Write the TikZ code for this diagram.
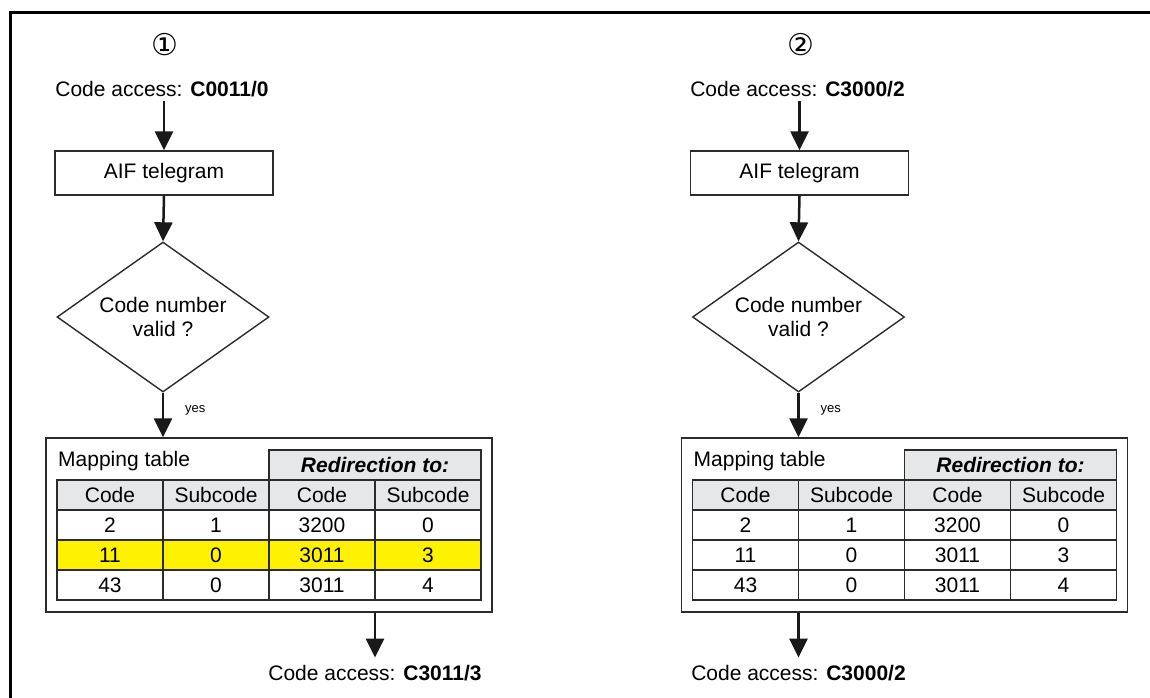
\documentclass[tikz,border=0pt]{standalone}
\usepackage{fontspec}
\setmainfont{Liberation Sans}
\newfontfamily\symfont{DejaVu Sans}
\usetikzlibrary{shapes.geometric,arrows.meta}
\definecolor{headgray}{HTML}{E6E7E8}
\definecolor{hlyellow}{HTML}{FFF200}
\definecolor{linegray}{HTML}{2B2B2B}
\newcommand\fsmain{\fontsize{21}{24}\selectfont}
\newcommand\fssmall{\fontsize{13}{15}\selectfont}
\tikzset{
  frameline/.style={draw=black, line width=2.6pt},
  boxstyle/.style={draw=linegray, line width=1.4pt, inner sep=0pt, font=\fsmain},
  cell/.style={draw=linegray, line width=1.5pt, minimum width=106pt, minimum height=30pt, inner sep=0pt, outer sep=0pt, font=\fsmain},
  hcell/.style={cell, fill=headgray},
  ycell/.style={cell, fill=hlyellow},
  plaintext/.style={inner sep=0pt, font=\fsmain},
  arr/.style={line width=2.5pt, draw=black!90, -{Triangle[width=18pt,length=19pt]}},
  decision/.style={diamond, aspect=1.41, draw=linegray, line width=1.4pt, minimum width=212pt, minimum height=150pt, inner sep=0pt, align=center, font=\fsmain},
}
\newcommand\mydiag[7]{%
\begin{scope}[xshift=#2pt]
  \node[plaintext] (#1num) at (165,45) {\fontsize{30}{32}\symfont #3};
  \node[plaintext, anchor=base] (#1in) at (162,96) {Code access: \textbf{#4}};
  \node[boxstyle, minimum width=218pt, minimum height=44pt] (#1aif) at (164,173) {AIF telegram};
  \node[decision] (#1valid) at (163,317) {Code number\\valid ?};
  \node[boxstyle, minimum width=446pt, minimum height=174pt] (#1map) at (269,525) {};
  \node[plaintext, anchor=base west] (#1maptitle) at (58,466) {Mapping table};
  \node[hcell, minimum width=212pt, font=\fsmain\bfseries\itshape] (#1redir) at (375,465) {Redirection to:};
  \node[hcell] (#1ha) at (110,495) {Code};
  \node[hcell] (#1hb) at (216,495) {Subcode};
  \node[hcell] (#1hc) at (322,495) {Code};
  \node[hcell] (#1hd) at (428,495) {Subcode};
  \node[cell] (#1aa) at (110,525) {2};
  \node[cell] (#1ab) at (216,525) {1};
  \node[cell] (#1ac) at (322,525) {3200};
  \node[cell] (#1ad) at (428,525) {0};
  \node[#7] (#1ba) at (110,555) {11};
  \node[#7] (#1bb) at (216,555) {0};
  \node[#7] (#1bc) at (322,555) {3011};
  \node[#7] (#1bd) at (428,555) {3};
  \node[cell] (#1ca) at (110,585) {43};
  \node[cell] (#1cb) at (216,585) {0};
  \node[cell] (#1cc) at (322,585) {3011};
  \node[cell] (#1cd) at (428,585) {4};
  \node[plaintext, anchor=base] (#1out) at (#6,680) {Code access: \textbf{#5}};
  \node[anchor=base west, font=\fssmall, inner sep=0pt] (#1yes) at (185,412) {yes};
  \draw[arr, shorten <=4.5pt] (#1aif.north |- #1in.south) -- (#1aif.north);
  \draw[arr] (#1aif.south) -- (#1valid.north);
  \draw[arr] (#1valid.south) -- (#1valid.south |- #1map.north);
  \draw[arr, shorten >=7pt] (#1map.south -| #1out.north) -- (#1out.north);
\end{scope}}
\begin{document}
\begin{tikzpicture}[x=1pt,y=-1pt]
  \useasboundingbox (0,0) rectangle (1150,697);
  \clip (0,0) rectangle (1150,697);
  \draw[frameline] (10.5,12.5) rectangle (1170,720);
  \mydiag{l}{0}{①}{C0011/0}{C3011/3}{375}{ycell}
  \mydiag{r}{635.5}{②}{C3000/2}{C3000/2}{163}{cell}
\end{tikzpicture}
\end{document}
